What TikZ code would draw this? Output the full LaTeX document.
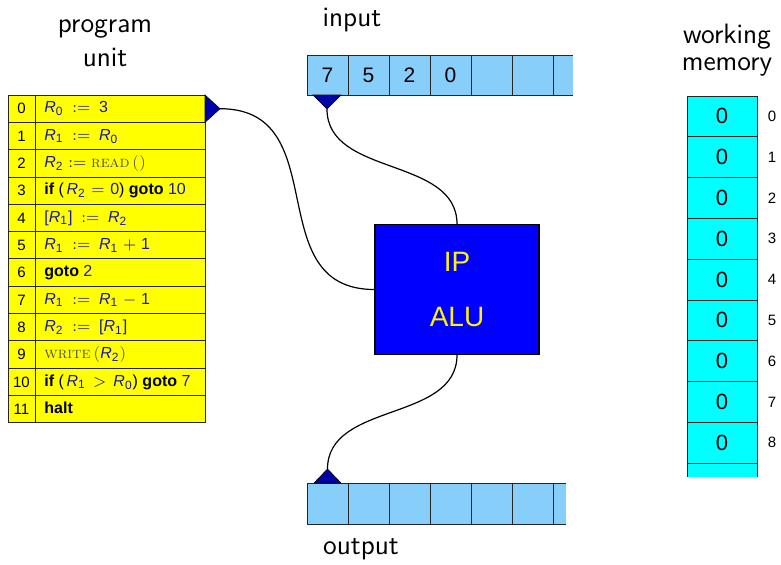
\documentclass[tikz,border=0pt]{standalone}
\usepackage{fontspec}
\newfontfamily\arialf{Liberation Sans}

\definecolor{tapeblue}{RGB}{135,206,250}
\definecolor{progyellow}{RGB}{255,255,0}
\definecolor{memcyan}{RGB}{0,255,255}
\definecolor{cpublue}{RGB}{0,0,255}
\definecolor{headblue}{RGB}{0,0,170}
\definecolor{regblue}{RGB}{25,25,170}
\definecolor{opgray}{RGB}{80,80,95}

% register, assignment, keyword and operation helpers
\newcommand\Rg[1]{{\color{regblue}\itshape R\textsubscript{\upshape #1}}}
\newcommand\asg{{\color{regblue}\hspace{0.55em}$:=$\hspace{0.55em}}}
\newcommand\kw[1]{\textbf{#1}}
\newcommand\opn[1]{{\color{opgray}\rmfamily\textsc{#1}}}
\newcommand\bl[1]{{\color{regblue}#1}}

\tikzset{
  grid/.style={draw=black!85, line width=0.5pt},
  heading/.style={font=\fontsize{14}{16}\selectfont\sffamily, align=center},
  rowtext/.style={anchor=west, inner sep=0pt, text height=6pt, text depth=1.8pt,
    font=\arialf\fontsize{8}{9}\selectfont},
  idxtext/.style={font=\arialf\fontsize{7.5}{9}\selectfont},
  celltext/.style={font=\arialf\fontsize{10.5}{12}\selectfont},
  memtext/.style={font=\arialf\fontsize{11}{13}\selectfont},
  head/.style={fill=headblue, draw=black, line width=0.3pt},
  cpubox/.style={fill=cpublue, draw=black, line width=0.6pt, text=yellow, align=center,
    minimum width=82pt, minimum height=64.75pt, font=\arialf\fontsize{14}{16}\selectfont},
  wire/.style={draw=black, line width=0.6pt}
}

\begin{document}
\begin{tikzpicture}[x=0.5pt,y=-0.5pt]
		% Fix the canvas (one unit = one pixel of the picture)
		\useasboundingbox (0,0) rectangle (781,564);
		
		% Sizes of rows and cells
		\def\rowH{27.33}
		\def\cellW{41}
		\def\memH{40.8}
		
		% Titles
		\node[heading] (puTitle) at (105,43) {program\\[1pt]unit};
		\node[heading] (inTitle) at (352,20) {input};
		\node[heading] (outTitle) at (361,549) {output};
		\node[heading] (memTitle) at (727,50) {working\\[-2.5pt]memory};
		
		% Draw the program unit table
		\fill[progyellow] (8,95) rectangle (205,423);
		\foreach \i in {0,...,11}
			\draw[grid] (8,{95+\rowH*\i}) rectangle (205,{95+\rowH*(\i+1)});
		\draw[grid] (35,95) -- (35,423);
		\foreach \i/\txt in {0/{\Rg0\asg\bl{3}},
				1/{\Rg1\asg\Rg0},
				2/{\Rg2\bl{\hspace{0.3em}$:=$\hspace{0.3em}}\opn{read}\,\opn{()}},
				3/{\kw{if} (\,\Rg2\bl{\hspace{0.35em}$=$\hspace{0.35em}0}) \kw{goto} \bl{10}},
				4/{\bl{[}\Rg1\bl{]}\asg\Rg2},
				5/{\Rg1\asg\Rg1\bl{\hspace{0.3em}$+$\hspace{0.3em}1}},
				6/{\kw{goto} \bl{2}},
				7/{\Rg1\asg\Rg1\bl{\hspace{0.3em}$-$\hspace{0.3em}1}},
				8/{\Rg2\asg\bl{[}\Rg1\bl{]}},
				9/{\opn{write}\,\opn{(}\Rg2\opn{)}},
				10/{\kw{if} (\,\Rg1\bl{\hspace{0.45em}$>$\hspace{0.45em}}\Rg0) \kw{goto} \bl{7}},
				11/{\kw{halt}}} {
			\node[idxtext] (idx\i) at (21.5,{95+\rowH*(\i+0.5)}) {\i};
			\node[rowtext] (row\i) at (44,{95+\rowH*(\i+0.5)}) {\txt};
		}
		
		% Head of the program unit
		\fill[head] (205,95) -- (220,108.7) -- (205,122.3) -- cycle;
		\coordinate (puTip) at (220,108.7);
		
		% Draw the input tape (open on the right)
		\fill[tapeblue] (307,55) rectangle (573,95);
		\draw[grid] (573,55) -- (307,55) -- (307,95) -- (573,95);
		\foreach \k in {1,...,6}
			\draw[grid] ({307+\cellW*\k},55) -- ++(0,40);
		\foreach \k/\v in {0/7,1/5,2/2,3/0}
			\node[celltext] (in\k) at ({327.5+\cellW*\k},75) {\v};
		\fill[head] (313,95) -- (341,95) -- (327,109) -- cycle;
		\coordinate (inTip) at (327,109);
		
		% Draw the output tape (open on the right)
		\fill[tapeblue] (307,483) rectangle (566,524);
		\draw[grid] (566,483) -- (307,483) -- (307,524) -- (566,524);
		\foreach \k in {1,...,6}
			\draw[grid] ({307+\cellW*\k},483) -- ++(0,41);
		\fill[head] (314,483) -- (341,483) -- (327.5,469) -- cycle;
		\coordinate (outTip) at (327.5,469);
		
		% The processor with "IP" and "ALU"
		\node[cpubox] (cpu) at (457,289.5) {IP\\[11.5pt]ALU};
		
		% Draw the working memory (open at the bottom)
		\fill[memcyan] (687,96) rectangle (757,477);
		\foreach \i in {0,...,8} {
			\draw[grid] (687,{96+\memH*\i}) rectangle (757,{96+\memH*(\i+1)});
			\node[memtext] (m\i) at (722,{96+\memH*(\i+0.5)}) {0};
			\node[idxtext] (adr\i) at (772,{96+\memH*(\i+0.5)}) {\i};
		}
		\draw[grid] (687,463.2) -- (687,477) (757,463.2) -- (757,477);
		
		% Wires from the heads to the processor
		\draw[wire] (puTip) to[out=0,in=180,looseness=1.25] (cpu.west);
		\draw[wire] (inTip) to[out=-90,in=90] (cpu.north);
		\draw[wire] (cpu.south) to[out=-90,in=90] (outTip);
	\end{tikzpicture}
\end{document}
